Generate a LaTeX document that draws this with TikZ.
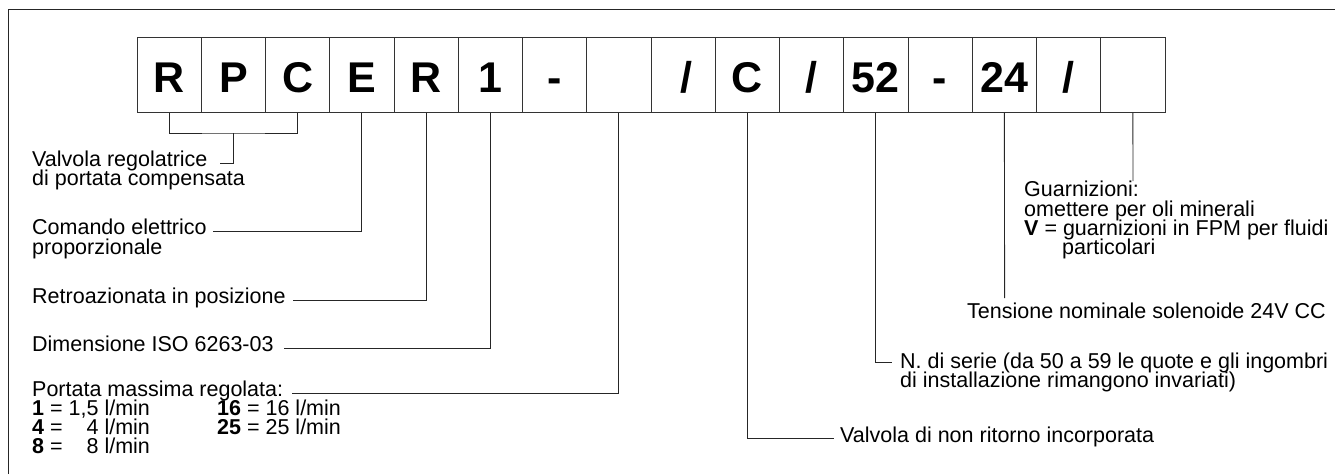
\documentclass[tikz,border=0pt]{standalone}
\usepackage{fontspec}
\setmainfont{Liberation Sans}
\begin{document}
\begin{tikzpicture}[x=1pt,y=-1pt,
  cell/.style={draw=black!80, line width=1pt, minimum width=64.25pt, minimum height=75pt, inner sep=0pt,
    text height=35pt, text depth=0pt, font=\fontsize{43}{43}\selectfont\bfseries},
  lab/.style={anchor=base west, inner sep=0pt, font=\fontsize{21.5}{21.5}\selectfont},
  conn/.style={draw=black!85, line width=0.9pt}]
\useasboundingbox (0,0) rectangle (1335,474);
\draw[line width=1.3pt, black!85] (8.5,474) -- (8.5,9.5) -- (1335,9.5);
% code boxes
\foreach \i/\t in {1/R,2/P,3/C,4/E,5/R,6/1,7/-,8/{},9/{\,/},10/C,11/{/},12/52,13/-,14/24,15/{/},16/{}}{
  \node[cell] (b\i) at ({137+64.25*(\i-0.5)},74.5) {\t};
}
% labels
\node[lab] (lVal1) at (32,166) {Valvola regolatrice};
\node[lab] (lVal2) at (32,185) {di portata compensata};
\node[lab] (lCom1) at (32,234) {Comando elettrico};
\node[lab] (lCom2) at (32,254) {proporzionale};
\node[lab] (lRet) at (32,303) {Retroazionata in posizione};
\node[lab] (lDim) at (32,351) {Dimensione ISO 6263-03};
\node[lab] (lPor) at (32,396) {Portata massima regolata:};
\node[lab] (lP1) at (32,415) {\textbf{1} = 1,5 l/min};
\node[lab] (lP4) at (32,434) {\textbf{4} = \hphantom{1,}4 l/min};
\node[lab] (lP8) at (32,453) {\textbf{8} = \hphantom{1,}8 l/min};
\node[lab] (lP16) at (217,415) {\textbf{16} = 16 l/min};
\node[lab] (lP25) at (217,434) {\textbf{25} = 25 l/min};
\node[lab] (lNon) at (840,442) {Valvola di non ritorno incorporata};
\node[lab] (lSer1) at (900,368) {N. di serie (da 50 a 59 le quote e gli ingombri};
\node[lab] (lSer2) at (900,387) {di installazione rimangono invariati)};
\node[lab] (lTen) at (967,318) {Tensione nominale solenoide 24V CC};
\node[lab] (lGua1) at (1024,196) {Guarnizioni:};
\node[lab] (lGua2) at (1024,216) {omettere per oli minerali};
\node[lab] (lGua3) at (1024,235) {\textbf{V} = guarnizioni in FPM per fluidi};
\node[lab] (lGua4) at (1062,254) {particolari};
% connector end points
\coordinate (jRPC) at (233.4,133);
\coordinate (eVal) at (220,163);
\coordinate (eCom) at (213,231);
\coordinate (eRet) at (293,300);
\coordinate (eDim) at (284,348);
\coordinate (ePor) at (292,393);
\coordinate (eNon) at (834,438);
\coordinate (eSer) at (892,362);
\coordinate (eTen) at (1004.6,298);
\coordinate (eGua) at (1133,181);
% connectors
\draw[conn] (b1.south) |- (jRPC) -| (b3.south);
\draw[conn] (jRPC) |- (eVal);
\draw[conn] (b4.south) |- (eCom);
\draw[conn] (b5.south) |- (eRet);
\draw[conn] (b6.south) |- (eDim);
\draw[conn] (b8.south) |- (ePor);
\draw[conn] (b10.south) |- (eNon);
\draw[conn] (b12.south) |- (eSer);
\draw[conn] (b14.south) -- (eTen);
\draw[conn] (b16.south) -- (eGua);
\end{tikzpicture}
\end{document}
